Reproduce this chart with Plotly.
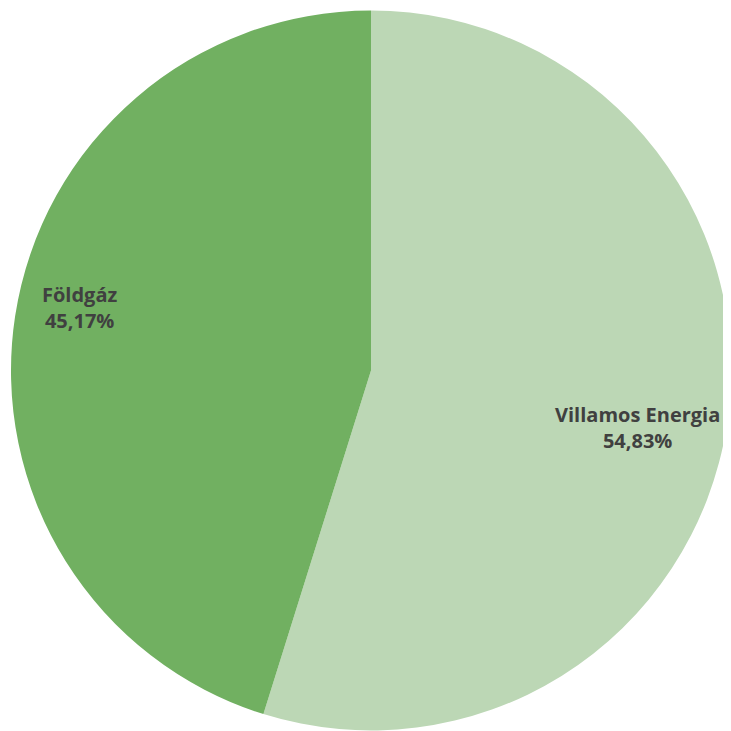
import math
import plotly.graph_objects as go

labels = ["Villamos Energia", "Földgáz"]
values = [54.83, 45.17]
colors = ["#bcd7b5", "#71b061"]
label_radius = [0.756, 0.827]   # label distance from centre, fraction of radius
label_shift_deg = [3.4, 3.5]    # label angle offset from slice mid-angle

W = H = 723  # browser body has an 8px margin
ML, MR, MT, MB = 3, 0, 2, 0

fig = go.Figure(go.Pie(
    labels=labels,
    values=values,
    sort=False,
    direction="clockwise",
    rotation=0,
    marker=dict(colors=colors, line=dict(width=0)),
    textinfo="none",
    showlegend=False,
    hoverinfo="label+percent",
))

pw = W - ML - MR
ph = H - MT - MB
r_px = min(pw, ph) / 2
total = sum(values)
start = 0.0
for lab, val, f, sh in zip(labels, values, label_radius, label_shift_deg):
    mid = (start + val / 2) / total * 2 * math.pi + math.radians(sh)
    start += val
    dx = f * r_px * math.sin(mid)
    dy = f * r_px * math.cos(mid)
    pct = f"{val / total * 100:.2f}".replace(".", ",") + "%"
    fig.add_annotation(
        x=0.5 + dx / pw, y=0.5 + dy / ph, xref="paper", yref="paper",
        text=f"<b>{lab}<br>{pct}</b>", showarrow=False,
        font=dict(family="Open Sans", size=20, color="#404040"),
        xanchor="center", yanchor="middle", align="center",
    )

fig.update_layout(
    width=W, height=H,
    margin=dict(l=ML, r=MR, t=MT, b=MB, pad=0),
    paper_bgcolor="white",
    plot_bgcolor="white",
    separators=",.",
)

fig.write_html("out.html")
